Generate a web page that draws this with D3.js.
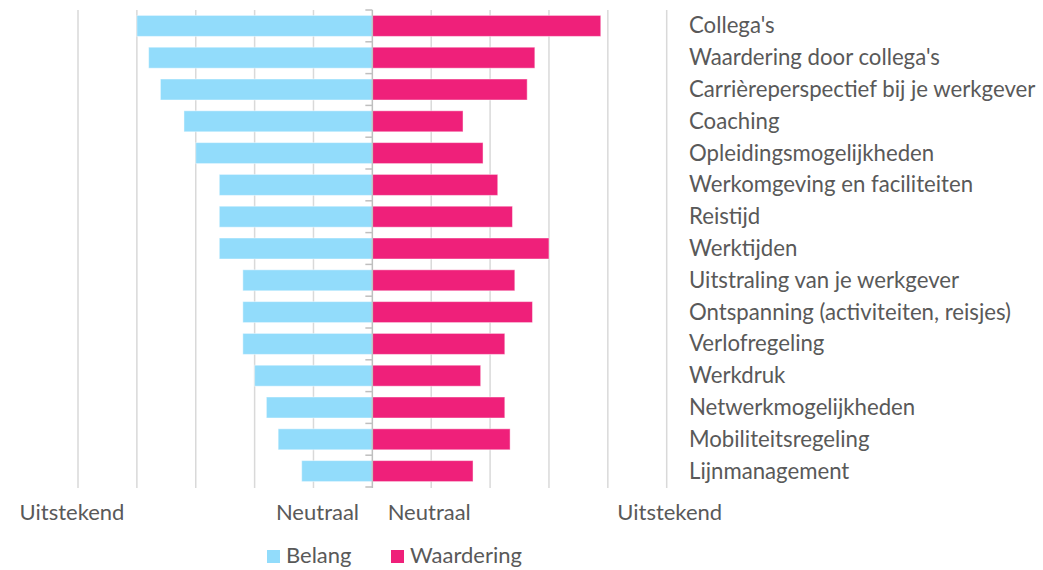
<!DOCTYPE html>
<html><head><meta charset="utf-8">
<script src="https://cdn.jsdelivr.net/npm/d3@7"></script>
<style>body{margin:0;background:#fff}svg{display:block}text{font-family:Lato,"Open Sans",sans-serif}</style>
</head><body>
<script>
const categories = ["Collega's","Waardering door collega's","Carrièreperspectief bij je werkgever","Coaching","Opleidingsmogelijkheden","Werkomgeving en faciliteiten","Reistijd","Werktijden","Uitstraling van je werkgever","Ontspanning (activiteiten, reisjes)","Verlofregeling","Werkdruk","Netwerkmogelijkheden","Mobiliteitsregeling","Lijnmanagement"];
const belang = [4.0,3.8,3.6,3.2,3.0,2.6,2.6,2.6,2.2,2.2,2.2,2.0,1.8,1.6,1.2];
const waardering = [3.88,2.76,2.63,1.54,1.88,2.13,2.38,3.0,2.42,2.72,2.25,1.84,2.25,2.34,1.71];
const tickLabels = [{v:-5,t:"Uitstekend"},{v:-1,t:"Neutraal"},{v:1,t:"Neutraal"},{v:5,t:"Uitstekend"}];
const seriesNames = ["Belang","Waardering"];
const colors = ["#92dcfb","#ef207a"];

const W=1043,H=570;
const txt="#595959";
const svg=d3.select("body").append("svg").attr("width",W).attr("height",H);
const x=d3.scaleLinear().domain([-5,5]).range([78,666.7]);
const y=d3.scaleBand().domain(categories).range([10,487]).paddingInner(0.34).paddingOuter(0.17);

// gridlines
svg.append("g").selectAll("line").data(d3.range(-5,6).filter(d=>d!==0)).join("line")
  .attr("x1",d=>x(d)).attr("x2",d=>x(d)).attr("y1",10).attr("y2",488)
  .attr("stroke","#d9d9d9").attr("stroke-width",1.5);

// bars
svg.append("g").selectAll("rect").data(categories).join("rect")
  .attr("x",(d,i)=>x(-belang[i])).attr("width",(d,i)=>x(0)-x(-belang[i]))
  .attr("y",d=>y(d)).attr("height",y.bandwidth())
  .attr("fill",colors[0]).attr("stroke","#fff").attr("stroke-opacity",0.45);
svg.append("g").selectAll("rect").data(categories).join("rect")
  .attr("x",x(0)).attr("width",(d,i)=>x(waardering[i])-x(0))
  .attr("y",d=>y(d)).attr("height",y.bandwidth())
  .attr("fill",colors[1]).attr("stroke","#fff").attr("stroke-opacity",0.45);

// center axis
const a=svg.append("g");
a.append("line").attr("x1",x(0)).attr("x2",x(0)).attr("y1",10).attr("y2",488).attr("stroke","#bfbfbf").attr("stroke-width",1.5);
a.selectAll("line.t").data(d3.range(categories.length+1)).join("line").attr("class","t")
  .attr("x1",x(0)-7).attr("x2",x(0)).attr("y1",d=>10+d*(477/categories.length)).attr("y2",d=>10+d*(477/categories.length))
  .attr("stroke","#bfbfbf").attr("stroke-width",1.5);

// category labels
svg.append("g").selectAll("text").data(categories).join("text")
  .attr("x",689).attr("y",d=>y(d)+y.bandwidth()/2+7.5)
  .attr("font-size",22.2).attr("fill",txt).text(d=>d);

// axis labels
const dxs=[-6,4,-2,3];
svg.append("g").selectAll("text").data(tickLabels).join("text")
  .attr("x",(d,i)=>x(d.v)+dxs[i]).attr("y",520).attr("text-anchor","middle")
  .attr("font-size",22).attr("fill",txt).text(d=>d.t);

// legend
const lg=svg.append("g");
const lx=[267,391];
seriesNames.forEach((s,i)=>{
  lg.append("rect").attr("x",lx[i]).attr("y",550).attr("width",13).attr("height",13).attr("fill",colors[i]);
  lg.append("text").attr("x",lx[i]+19).attr("y",563).attr("font-size",22).attr("fill",txt).text(s);
});
</script>
</body></html>
